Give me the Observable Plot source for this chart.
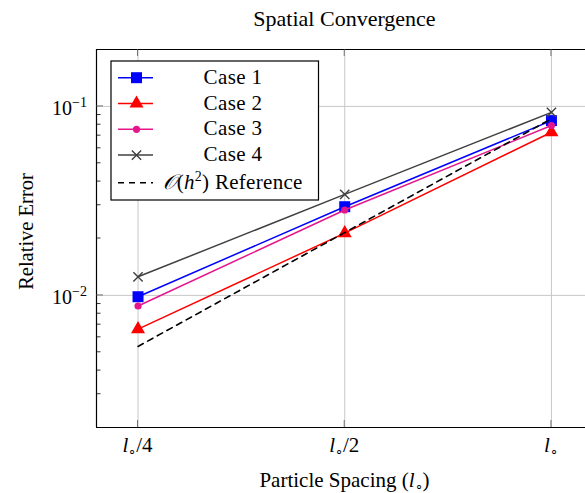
<!DOCTYPE html>
<html><head><meta charset="utf-8">
<script src="https://cdn.jsdelivr.net/npm/d3@7"></script>
<script src="https://cdn.jsdelivr.net/npm/@observablehq/plot@0.6"></script>
<style>
body{margin:0;background:#fff;}
#chart{position:relative;width:585px;height:493px;overflow:hidden;}
svg{font-family:"Liberation Serif",serif;}
</style></head><body><div id="chart"></div>
<script>
// ---- data ----
const spacing = [0.25, 0.5, 1];
const spacingSuffix = ["/4", "/2", ""];
const case1 = [0.00984, 0.02946, 0.0841];
const case2 = [0.00663, 0.02136, 0.0730];
const case3 = [0.00879, 0.0283, 0.0792];
const case4 = [0.01254, 0.03423, 0.0930];
const reference = [0.00537, 0.0215, 0.0860];
const seriesNames = ["Case 1", "Case 2", "Case 3", "Case 4"];
const referenceName = "Reference";
const yMajorTicks = [0.01, 0.1];
const yExponents = ["−2", "−1"];
const xDomain = [0.2175, 1.121];
const yDomain = [0.002, 0.2];

// ---- styles ----
const styles = [
  {color: "#0000ff", symbol: "square", r: 6.2},
  {color: "#ff0000", symbol: "triangle", r: 5.2},
  {color: "#e5168c", symbol: "circle", r: 3.6},
  {color: "#404040", symbol: "times", r: 4.3}
];
const values = [case1, case2, case3, case4];
const rows = values.map((arr, i) => spacing.map((h, j) => ({h, v: arr[j], s: seriesNames[i]})));
const refRows = spacing.map((h, j) => ({h, v: reference[j]}));

const marks = [
  Plot.ruleX(spacing, {stroke: "#c8c8c8", strokeWidth: 1}),
  Plot.ruleY(yMajorTicks, {stroke: "#c8c8c8", strokeWidth: 1}),
];
rows.forEach((r, i) => {
  const st = styles[i];
  marks.push(Plot.line(r, {x: "h", y: "v", stroke: st.color, strokeWidth: 1.5}));
  if (st.symbol === "times") {
    marks.push(Plot.dot(r, {x: "h", y: "v", symbol: "times", r: st.r, stroke: st.color, strokeWidth: 1.4, fill: "none"}));
  } else {
    marks.push(Plot.dot(r, {x: "h", y: "v", symbol: st.symbol, r: st.r, fill: st.color, stroke: "none"}));
  }
});
marks.push(Plot.line(refRows, {x: "h", y: "v", stroke: "black", strokeWidth: 1.6, strokeDasharray: "6,5"}));
marks.push(Plot.ruleX([xDomain[0]], {stroke: "black", strokeWidth: 1.2}));
marks.push(Plot.ruleY(yDomain, {stroke: "black", strokeWidth: 1.2}));

const plot = Plot.plot({
  width: 585, height: 493,
  marginTop: 49, marginBottom: 66, marginLeft: 96, marginRight: 0,
  style: {fontFamily: "Liberation Serif, serif", background: "white", overflow: "visible"},
  x: {type: "log", base: 2, domain: xDomain, axis: null},
  y: {type: "log", domain: yDomain, axis: null},
  marks
});
document.getElementById("chart").appendChild(plot);

const sx = plot.scale("x"), sy = plot.scale("y");
const svg = d3.select(plot);
const X = v => sx.apply(v), Y = v => sy.apply(v);
const leftPx = X(xDomain[0]);
const topPx = Y(yDomain[1]), bottomPx = Y(yDomain[0]);

// minor y ticks (inward)
const minor = [];
for (const dec of [0.001, 0.01, 0.1]) for (let k = 2; k <= 9; k++) { const v = k * dec; if (v > yDomain[0] && v < yDomain[1]) minor.push(v); }
const g = svg.append("g").attr("stroke", "#000").attr("stroke-width", 0.8);
minor.forEach(v => g.append("line").attr("x1", leftPx).attr("x2", leftPx + 4.5).attr("y1", Y(v)).attr("y2", Y(v)));
yMajorTicks.forEach(v => g.append("line").attr("x1", leftPx).attr("x2", leftPx + 7).attr("y1", Y(v)).attr("y2", Y(v)).attr("stroke", "#555"));
spacing.forEach(v => {
  g.append("line").attr("x1", X(v)).attr("x2", X(v)).attr("y1", bottomPx).attr("y2", bottomPx - 7).attr("stroke", "#555");
  g.append("line").attr("x1", X(v)).attr("x2", X(v)).attr("y1", topPx).attr("y2", topPx + 7).attr("stroke", "#555");
});

// tick labels
const tl = svg.append("g").attr("fill", "#000");
spacing.forEach((v, i) => {
  const t = tl.append("text").attr("x", X(v)).attr("y", bottomPx + 24.5).attr("text-anchor", "middle").attr("font-size", 21);
  t.append("tspan").attr("font-style", "italic").text("l");
  t.append("tspan").attr("font-size", 13).attr("dy", 3).text("∘");
  if (spacingSuffix[i]) t.append("tspan").attr("dy", -3).text(spacingSuffix[i]);
});
yMajorTicks.forEach((v, i) => {
  const t = tl.append("text").attr("x", leftPx - 9).attr("y", Y(v) + 9.3).attr("text-anchor", "end").attr("font-size", 20);
  t.append("tspan").text("10");
  t.append("tspan").attr("font-size", 14).attr("dy", -8).text(yExponents[i]);
});

// axis labels & title
svg.append("text").attr("x", 344.5).attr("y", 25.7).attr("text-anchor", "middle").attr("font-size", 22).text("Spatial Convergence");
svg.append("text").attr("transform", `translate(33,231.5) rotate(-90)`).attr("text-anchor", "middle").attr("font-size", 20.5).text("Relative Error");
const xl = svg.append("text").attr("x", 344.5).attr("y", 487).attr("text-anchor", "middle").attr("font-size", 21);
xl.append("tspan").text("Particle Spacing (");
xl.append("tspan").attr("font-style", "italic").text("l");
xl.append("tspan").attr("font-size", 13).attr("dy", 3).text("∘");
xl.append("tspan").attr("dy", -3).text(")");

// legend
const lg = svg.append("g");
lg.append("rect").attr("x", 111).attr("y", 61).attr("width", 207.5).attr("height", 139).attr("fill", "white").attr("stroke", "black").attr("stroke-width", 1.2);
const rowY = [77.7, 103.5, 129.3, 155.1, 182.7];
seriesNames.forEach((name, i) => {
  const st = styles[i];
  const y = rowY[i];
  lg.append("line").attr("x1", 118).attr("x2", 153).attr("y1", y).attr("y2", y).attr("stroke", st.color).attr("stroke-width", 1.5);
  const symType = {square: d3.symbolSquare, triangle: d3.symbolTriangle, circle: d3.symbolCircle, times: d3.symbolTimes}[st.symbol];
  const p = d3.symbol(symType, Math.PI * st.r * st.r)();
  const path = lg.append("path").attr("d", p).attr("transform", `translate(136.5,${y})`);
  if (st.symbol === "times") path.attr("fill", "none").attr("stroke", st.color).attr("stroke-width", 1.4);
  else path.attr("fill", st.color);
  lg.append("text").attr("x", 233).attr("y", y + 6).attr("text-anchor", "middle").attr("font-size", 21).attr("letter-spacing", 0.4).text(name);
});
{
  const y = rowY[4];
  lg.append("line").attr("x1", 118).attr("x2", 153).attr("y1", y).attr("y2", y).attr("stroke", "black").attr("stroke-width", 1.6).attr("stroke-dasharray", "6,5");
  const t = lg.append("text").attr("x", 233).attr("y", y + 6).attr("text-anchor", "middle").attr("font-size", 21).attr("letter-spacing", 0.3);
  t.append("tspan").attr("font-style", "italic").text("𝒪");
  t.append("tspan").text("(");
  t.append("tspan").attr("font-style", "italic").text("h");
  t.append("tspan").attr("font-size", 14).attr("dy", -8).text("2");
  t.append("tspan").attr("dy", 8).text(") " + referenceName);
}
</script></body></html>
